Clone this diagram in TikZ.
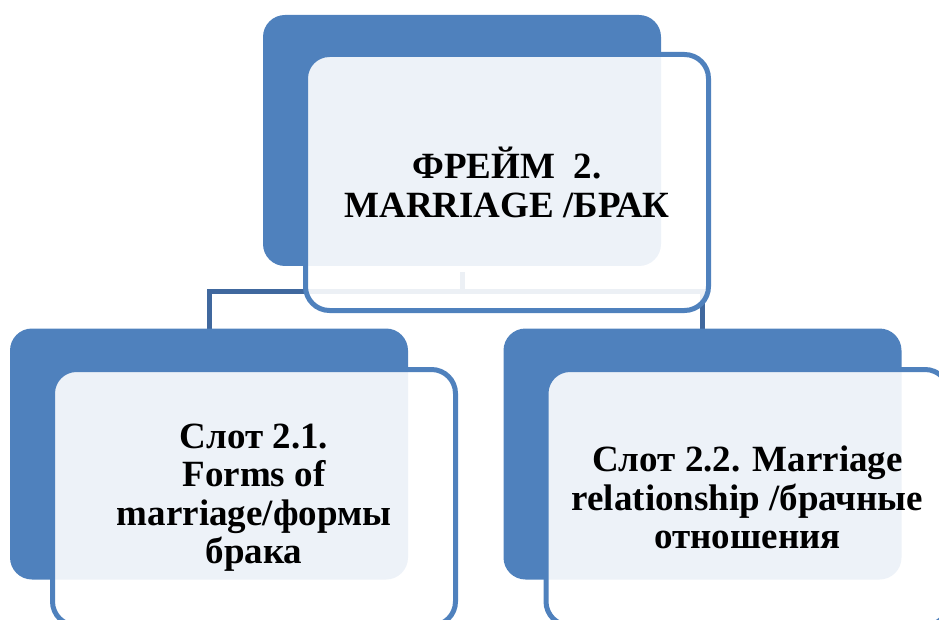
\documentclass[tikz,border=0pt]{standalone}
\usepackage{fontspec}
\setmainfont{Liberation Serif}
\usetikzlibrary{backgrounds}
\definecolor{accent}{RGB}{79,129,189}
\definecolor{linkblue}{RGB}{64,104,158}
\begin{document}
\begin{tikzpicture}[x=1pt,y=-1pt,
  backbox/.style={rectangle, fill=accent, draw=none, rounded corners=22pt,
    minimum width=398pt, minimum height=251pt, inner sep=0pt, outer sep=0pt},
  frontbox/.style={rectangle, fill=white, fill opacity=0.9, text opacity=1,
    draw=accent, line width=5pt, rounded corners=24pt,
    minimum width=403pt, minimum height=256pt, inner sep=0pt, outer sep=0pt,
    align=center, text=black, font=\bfseries\fontsize{37}{38.5}\selectfont},
  link/.style={draw=linkblue, line width=5pt}]
\useasboundingbox (0,0) rectangle (939,620);
\clip (0,0) rectangle (939,620);

% back panels
\node[backbox] (tb) at (462,140.5) {};
\node[backbox] (lb) at (209,454) {};
\node[backbox] (rb) at (702.5,454) {};

% connectors from the frame to its slots, kept behind the panels
\coordinate (bus) at (462,291);
\begin{pgfonlayer}{background}
\draw[link] ([yshift=-6pt]tb.south) -- (bus) -| (lb.north);
\draw[link] (bus) -| (rb.north);
\end{pgfonlayer}

% front panels with labels
\node[frontbox] (tf) at (507,182.5) {ФРЕЙМ\ \ 2.\\MARRIAGE /БРАК};
\node[frontbox] (lf) at (254,497.5) {Слот 2.1.\\Forms of\\marriage/формы\\брака};
\node[frontbox] (rf) at (747.5,497.5) {Слот 2.2. Marriage\\relationship /брачные\\отношения};
\end{tikzpicture}
\end{document}
